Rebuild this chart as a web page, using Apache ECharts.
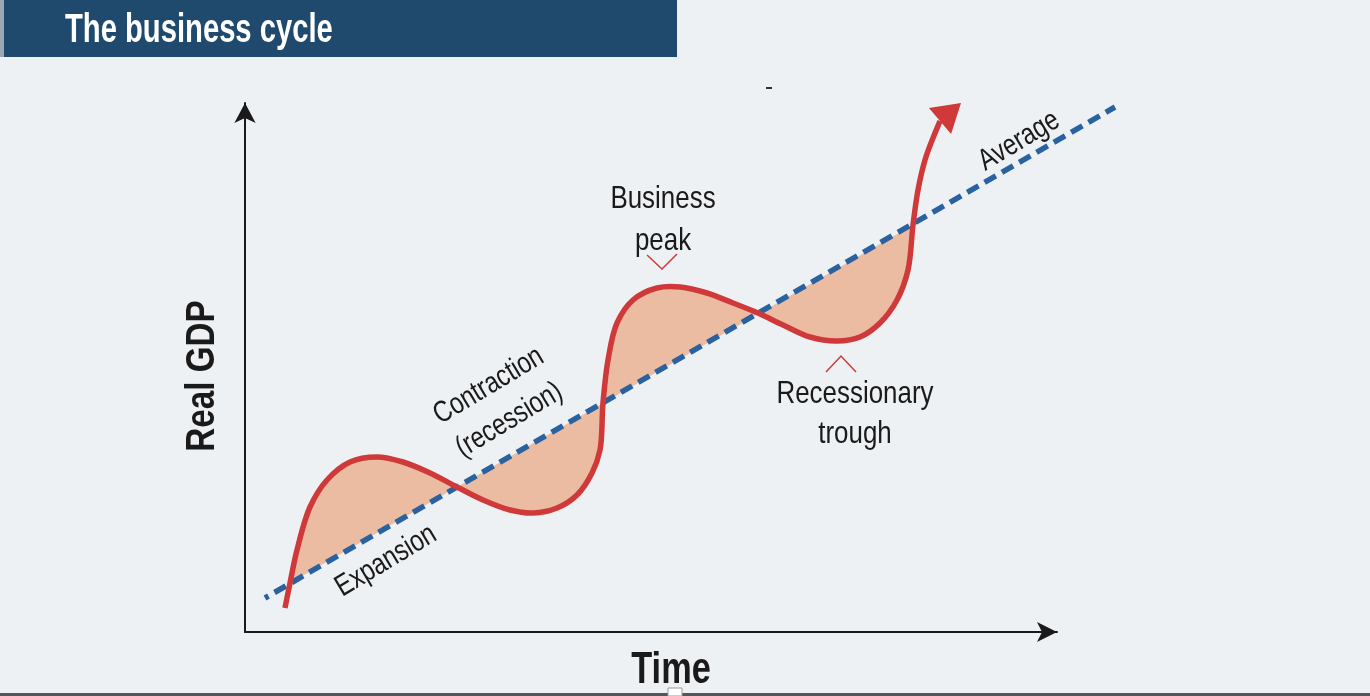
<!DOCTYPE html>
<html>
<head>
<meta charset="utf-8">
<script src="https://cdn.jsdelivr.net/npm/echarts@6/dist/echarts.min.js"></script>
<style>
html,body{margin:0;padding:0;background:#edf1f4;}
#chart{width:1370px;height:696px;}
</style>
</head>
<body>
<div id="chart"></div>
<script>
// ---- data (time units, GDP units) ----
const cycleCurve = [
  [40,24],[45,49],[52,82],[65,125],[82,152],[105,170],[132,175],[158,170],
  [185,159],[212,145],[238,132],[265,122],[288,119],[312,124],[332,137],
  [347,159],[355,182],[358,229],[363,272],[372,309],[388,332],[412,344],
  [435,345],[462,339],[488,329],[513,319],[538,307],[565,295],[592,291],
  [615,295],[635,309],[652,332],[663,362],[668,407],[673,442],[680,472],
  [688,494],[695,511]
];
const cycleArrowTip = [716,529];
const averageTrend = [[20,34],[870,525]];
const shadeFromIndex = 1;   // first crossing with the trend
const shadeToIndex = 33;    // last crossing with the trend
const axisRange = { xMax: 812, yMax: 529 };

const FONT = '"Liberation Sans",Arial,sans-serif';
const RED = '#cf393a';
const BLUE = '#2a62a0';
const PEACH = '#ecbca2';
const INK = '#1a1a1a';

// centripetal Catmull-Rom -> cubic Bezier path (rendering of the read points)
function bezierD(pts, from, to) {
  const dist = (a, b) => Math.pow(Math.hypot(b[0] - a[0], b[1] - a[1]), 0.5);
  let d = 'M ' + pts[from][0] + ' ' + pts[from][1];
  for (let i = from; i < to; i++) {
    const p1 = pts[i], p2 = pts[i + 1];
    const p0 = i > 0 ? pts[i - 1] : null;
    const p3 = i + 2 < pts.length ? pts[i + 2] : null;
    const d2 = dist(p1, p2);
    let c1, c2;
    if (p0) {
      const d1 = dist(p0, p1);
      const k = 3 * d1 * (d1 + d2);
      c1 = [0, 1].map(j => (d1 * d1 * p2[j] - d2 * d2 * p0[j] + (2 * d1 * d1 + 3 * d1 * d2 + d2 * d2) * p1[j]) / k);
    } else {
      c1 = [p1[0] + (p2[0] - p1[0]) / 3, p1[1] + (p2[1] - p1[1]) / 3];
    }
    if (p3) {
      const d3 = dist(p2, p3);
      const k = 3 * d3 * (d3 + d2);
      c2 = [0, 1].map(j => (d3 * d3 * p1[j] - d2 * d2 * p3[j] + (2 * d3 * d3 + 3 * d3 * d2 + d2 * d2) * p2[j]) / k);
    } else {
      c2 = [p2[0] - (p2[0] - p1[0]) / 3, p2[1] - (p2[1] - p1[1]) / 3];
    }
    d += ' C ' + c1[0] + ' ' + c1[1] + ' ' + c2[0] + ' ' + c2[1] + ' ' + p2[0] + ' ' + p2[1];
  }
  return d;
}

const chart = echarts.init(document.getElementById('chart'));
const rad = Math.PI / 180;

function label(text, x, y, size, rot, sx, extra) {
  return Object.assign({
    type: 'text', x: x, y: y, rotation: rot * rad, scaleX: sx,
    style: Object.assign({ text: text, fill: INK, font: size + 'px ' + FONT, align: 'center', verticalAlign: 'middle' }, extra || {})
  });
}

chart.setOption({
  backgroundColor: '#edf1f4',
  animation: false,
  grid: { left: 245, right: 313, top: 103, bottom: 64 },
  xAxis: {
    type: 'value', min: 0, max: axisRange.xMax,
    axisLine: { show: true, symbol: ['none', 'arrow'], symbolSize: [15, 20], lineStyle: { color: INK, width: 2 } },
    axisTick: { show: false }, axisLabel: { show: false }, splitLine: { show: false }
  },
  yAxis: {
    type: 'value', min: 0, max: axisRange.yMax,
    axisLine: { show: true, symbol: ['none', 'arrow'], symbolSize: [16, 20], lineStyle: { color: INK, width: 2 } },
    axisTick: { show: false }, axisLabel: { show: false }, splitLine: { show: false }
  },
  series: [
    {
      type: 'custom', z: 1, silent: true, data: [[0, 0]],
      renderItem: function (params, api) {
        const pts = cycleCurve.map(p => api.coord(p));
        const d = bezierD(pts, shadeFromIndex, shadeToIndex) + ' Z';
        return { type: 'path', shape: { pathData: d }, style: { fill: PEACH, stroke: null } };
      }
    },
    {
      type: 'custom', z: 2, silent: true, data: [[0, 0]],
      renderItem: function (params, api) {
        return {
          type: 'polyline',
          shape: { points: averageTrend.map(p => api.coord(p)) },
          style: { stroke: BLUE, lineWidth: 5.5, lineDash: [13, 7], lineDashOffset: 9, fill: null, lineCap: 'butt' }
        };
      }
    },
    {
      type: 'custom', z: 3, silent: true, data: [[0, 0]],
      renderItem: function (params, api) {
        const pts = cycleCurve.map(p => api.coord(p));
        const d = bezierD(pts, 0, pts.length - 1);
        const B = pts[pts.length - 1];
        const T = api.coord(cycleArrowTip);
        const dx = T[0] - B[0], dy = T[1] - B[1];
        const L = Math.sqrt(dx * dx + dy * dy);
        const px = -dy / L * 17, py = dx / L * 17;
        return {
          type: 'group',
          children: [
            { type: 'path', shape: { pathData: d }, style: { fill: null, stroke: RED, lineWidth: 5.5 } },
            { type: 'polygon', shape: { points: [T, [B[0] + px, B[1] + py], [B[0] - px, B[1] - py]] }, style: { fill: RED } }
          ]
        };
      }
    }
  ],
  graphic: [
    { type: 'rect', shape: { x: 0, y: 0, width: 4, height: 57 }, style: { fill: '#9aa7b7' } },
    { type: 'rect', shape: { x: 4, y: 0, width: 673, height: 57 }, style: { fill: '#1f4a6e' } },
    { type: 'text', x: 65, y: 31, scaleX: 0.73, style: { text: 'The business cycle', fill: '#ffffff', font: 'bold 40px ' + FONT, verticalAlign: 'middle' } },
    { type: 'rect', shape: { x: 766, y: 87, width: 6, height: 2 }, style: { fill: '#333' } },
    { type: 'rect', shape: { x: 0, y: 693, width: 1370, height: 3 }, style: { fill: '#555555' } },
    { type: 'rect', shape: { x: 668, y: 688, width: 14, height: 8 }, style: { fill: '#ffffff', stroke: '#9a9a9a', lineWidth: 1 } },
    label('Time', 671, 671, 44, 0, 0.78, { font: 'bold 44px ' + FONT }),
    label('Real GDP', 203, 376, 40, 90, 0.83, { font: 'bold 40px ' + FONT }),
    label('Average', 1019, 141, 30, 31, 0.8),
    label('Expansion', 386, 561, 30, 31, 0.8),
    label('Contraction\n(recession)', 499, 403, 30, 31, 0.8, { lineHeight: 40 }),
    label('Business\npeak', 663, 220, 32, 0, 0.81, { lineHeight: 42 }),
    label('Recessionary\ntrough', 855, 414, 32, 0, 0.81, { lineHeight: 40 }),
    { type: 'polyline', shape: { points: [[647, 255], [662, 269], [677, 254]] }, style: { stroke: RED, lineWidth: 1.5, fill: null } },
    { type: 'polyline', shape: { points: [[826, 372], [841, 356], [856, 372]] }, style: { stroke: RED, lineWidth: 1.5, fill: null } }
  ]
});
</script>
</body>
</html>
